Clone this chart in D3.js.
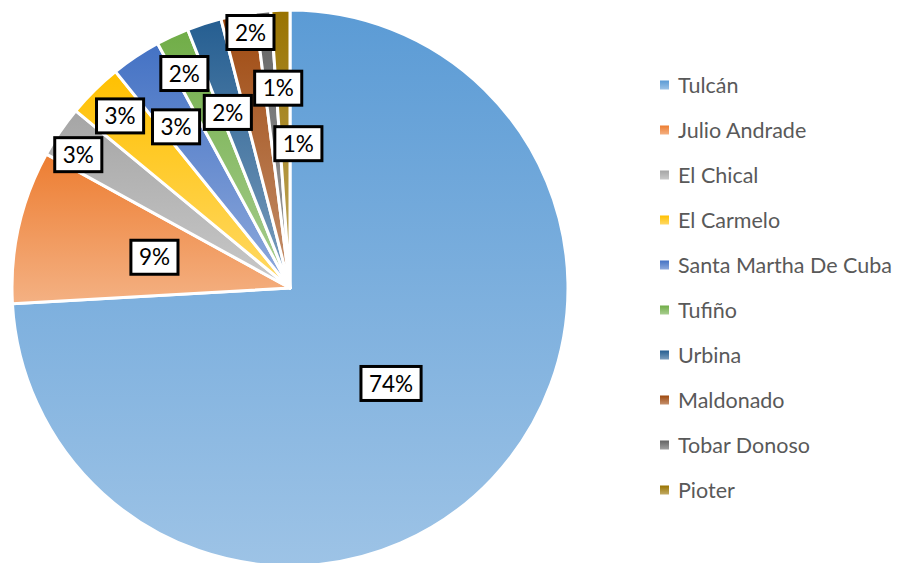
<!DOCTYPE html>
<html><head><meta charset="utf-8">
<script src="https://cdn.jsdelivr.net/npm/d3@7"></script>
<style>html,body{margin:0;padding:0;background:#fff;}svg{display:block;}</style>
</head><body>
<svg id="chart" width="899" height="563"></svg>
<script>
const categories = ["Tulcán","Julio Andrade","El Chical","El Carmelo","Santa Martha De Cuba","Tufiño","Urbina","Maldonado","Tobar Donoso","Pioter"];
const values = [74.1, 8.9, 3.0, 3.2, 2.9, 1.9, 2.0, 2.0, 0.9, 1.1];
const colors = ["#5B9BD5","#ED7D31","#A5A5A5","#FFC000","#4472C4","#70AD47","#255E91","#9E480E","#636363","#997300"];
// label placement (layout config): radius fraction and angular shift in degrees
const labelRadius = [0.5,0.5,0.9,0.87,0.71,0.86,0.67,0.93,0.72,0.52];
const labelShift = [0,0,-2,0,-1.6,-1.2,-1.5,2,2.2,5.3];

const svg = d3.select("#chart");
const cx = 290, cy = 288, R = 278;
const font = "Lato, 'Liberation Sans', sans-serif";

const defs = svg.append("defs");
colors.forEach((c,i)=>{
  const g = defs.append("linearGradient").attr("id","g"+i).attr("x1",0).attr("y1",0).attr("x2",0).attr("y2",1);
  g.append("stop").attr("offset","0%").attr("stop-color",c);
  g.append("stop").attr("offset","100%").attr("stop-color",d3.interpolateRgb(c,"#fff")(0.4));
});

const total = d3.sum(values);
const pie = d3.pie().sort(null).value(d=>d)(values);
const arc = d3.arc().innerRadius(0).outerRadius(R);
const gPie = svg.append("g").attr("transform",`translate(${cx},${cy})`);
gPie.selectAll("path").data(pie).join("path")
  .attr("d",arc).attr("fill",(d,i)=>`url(#g${i})`)
  .attr("stroke","#fff").attr("stroke-width",3).attr("stroke-linejoin","round");

const fmt = v => Math.round(v/total*100)+"%";
const lab = gPie.selectAll("g.lab").data(pie).join("g").attr("class","lab")
  .attr("transform",(d,i)=>{
    const a = (d.startAngle+d.endAngle)/2 + labelShift[i]*Math.PI/180;
    const r = R*labelRadius[i];
    return `translate(${r*Math.sin(a)},${-r*Math.cos(a)})`;
  });
lab.each(function(d,i){
  const g = d3.select(this);
  const t = fmt(d.value);
  const txt = g.append("text").text(t).attr("text-anchor","middle").attr("dy","0.36em")
    .attr("font-family",font).attr("font-size",22.5).attr("fill","#000");
  const w = txt.node().getComputedTextLength();
  g.insert("rect","text").attr("x",-w/2-8).attr("y",-17).attr("width",w+16).attr("height",34)
    .attr("fill","#fff").attr("stroke","#000").attr("stroke-width",3);
});

const leg = svg.append("g");
categories.forEach((c,i)=>{
  const y = 93 + i*45;
  leg.append("rect").attr("x",660).attr("y",y-12.5).attr("width",9).attr("height",9).attr("fill",`url(#g${i})`);
  leg.append("text").attr("x",678).attr("y",y).text(c).attr("font-family",font).attr("font-size",21.5).attr("fill","#595959");
});
</script>
</body></html>
